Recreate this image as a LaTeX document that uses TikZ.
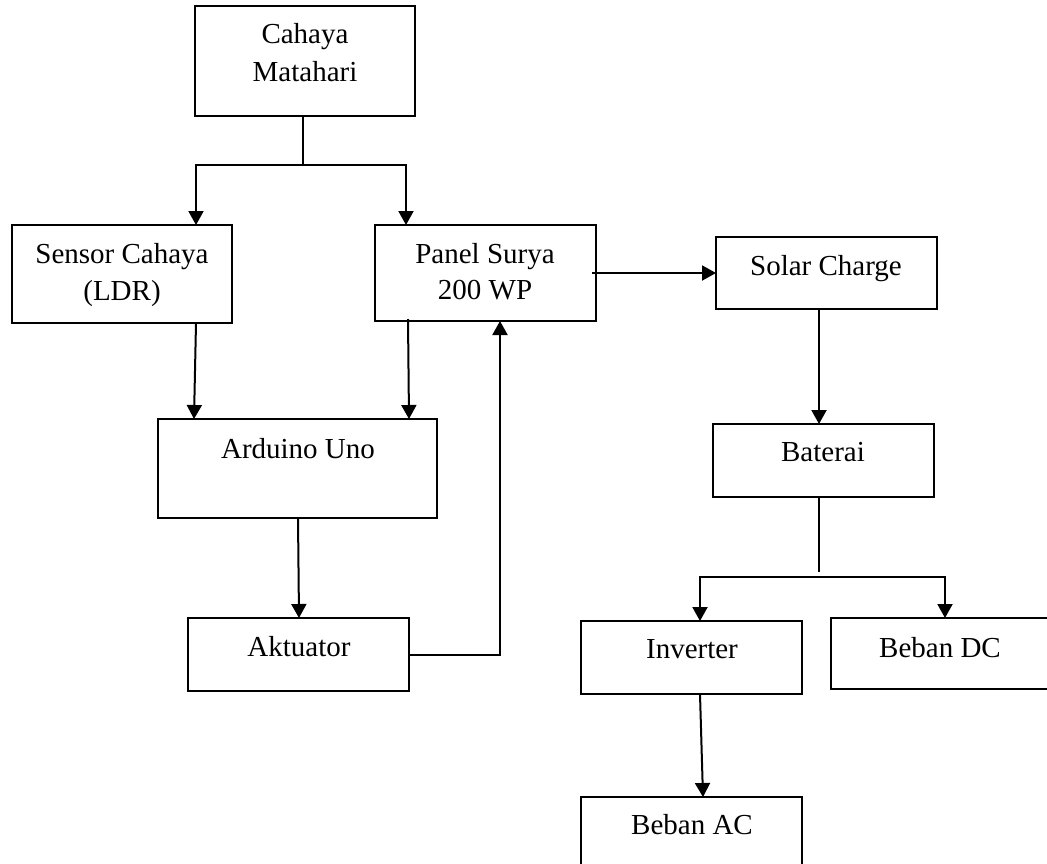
\documentclass[tikz,border=0pt]{standalone}
\usepackage{fontspec}
\setmainfont{Liberation Serif}
\usetikzlibrary{arrows.meta,calc}
\begin{document}
\begin{tikzpicture}[x=1pt,y=-1pt,
  box/.style={draw,line width=2pt,inner sep=0pt,outer sep=0pt,anchor=north west},
  lbl/.style={inner sep=0pt,anchor=base,font=\fontsize{29}{37}\selectfont},
  conn/.style={line width=2pt},
  arr/.style={conn,-{Triangle[width=15pt,length=14pt]}}]
\useasboundingbox (0,0) rectangle (1047,863);
% boxes
\node[box,minimum width=220pt,minimum height=110pt] (cah) at (195,6) {};
\node[box,minimum width=220pt,minimum height=98pt] (sen) at (12,225) {};
\node[box,minimum width=221pt,minimum height=96pt] (pan) at (375,225) {};
\node[box,minimum width=221pt,minimum height=72pt] (sol) at (716,237) {};
\node[box,minimum width=279pt,minimum height=99pt] (ard) at (158,419) {};
\node[box,minimum width=221pt,minimum height=73pt] (bat) at (713,424) {};
\node[box,minimum width=221pt,minimum height=73pt] (akt) at (188,618) {};
\node[box,minimum width=221pt,minimum height=73pt] (inv) at (581,621) {};
\node[box,minimum width=219pt,minimum height=71pt] (bdc) at (831,618) {};
\node[box,minimum width=221pt,minimum height=80pt] (bac) at (581,797) {};
% texts
\node[lbl] (cah-a) at (305,43) {Cahaya};
\node[lbl] (cah-b) at (305,81) {Matahari};
\node[lbl] (sen-a) at (122,263) {Sensor Cahaya};
\node[lbl] (sen-b) at (122,300) {(LDR)};
\node[lbl] (pan-a) at (485,263) {Panel Surya};
\node[lbl] (pan-b) at (485,299) {200 WP};
\node[lbl] (sol-a) at (826,275) {Solar Charge};
\node[lbl] (ard-a) at (298,458) {Arduino Uno};
\node[lbl] (bat-a) at (823,461) {Baterai};
\node[lbl] (akt-a) at (299,656) {Aktuator};
\node[lbl] (inv-a) at (692,658) {Inverter};
\node[lbl] (bdc-a) at (940,657) {Beban DC};
\node[lbl] (bac-a) at (692,834) {Beban AC};
% connectors
\coordinate (j1) at (303,165);
\draw[conn] (cah.south -| j1) -- (j1);
\draw[arr] (j1) -| ($(sen.north west)+(184,0)$);
\draw[arr] (j1) -| ($(pan.north west)+(31,0)$);
\draw[arr] ($(sen.south west)+(184,0)$) -- ($(ard.north west)+(36,0)$);
\draw[arr] ($(pan.south west)+(33,-2)$) -- ($(ard.north west)+(251,0)$);
\draw[arr] ($(pan.east)+(-4,0)$) -- (sol.west);
\draw[arr] ($(sol.south west)+(103,0)$) -- ($(bat.north west)+(106,0)$);
\draw[conn] ($(bat.south west)+(106,0)$) -- ++(0,75);
\coordinate (j2) at (819,577);
\draw[arr] (j2) -| ($(inv.north west)+(119,0)$);
\draw[arr] (j2) -| ($(bdc.north west)+(114,0)$);
\draw[arr] ($(inv.south west)+(119,0)$) -- ($(bac.north west)+(122,0)$);
\draw[arr] ($(ard.south west)+(140,0)$) -- ($(akt.north west)+(111,0)$);
\draw[arr] ($(akt.east)+(-1,0)$) -| ($(pan.south west)+(125,0)$);
\end{tikzpicture}
\end{document}
